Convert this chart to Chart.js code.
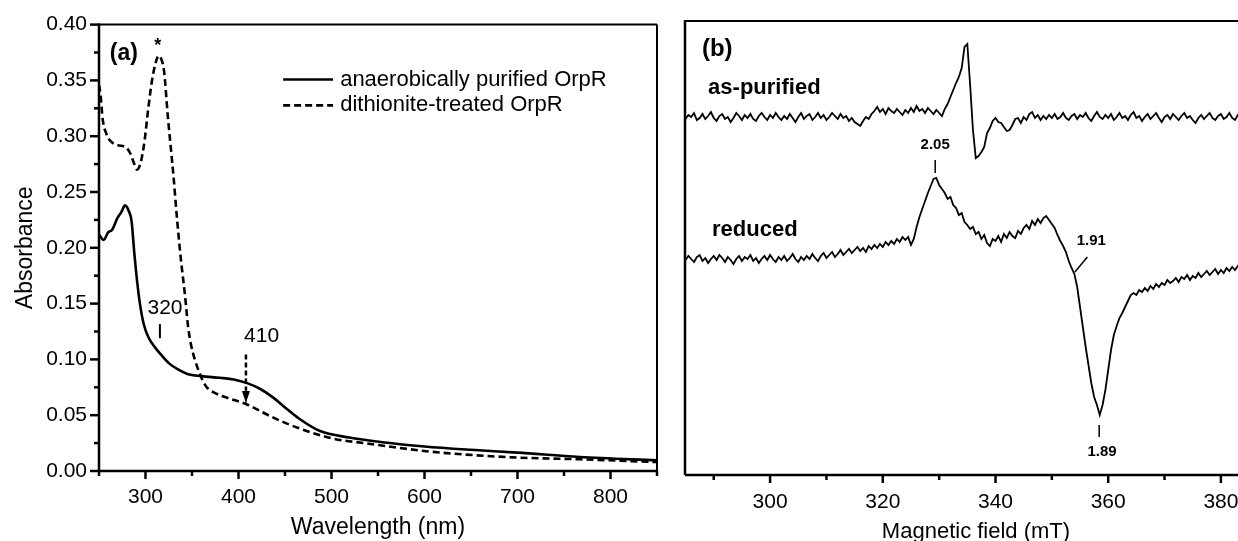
<!DOCTYPE html>
<html>
<head>
<meta charset="utf-8">
<script src="https://cdn.jsdelivr.net/npm/chart.js@4.4.0/dist/chart.umd.min.js"></script>
<style>
  html, body { margin: 0; padding: 0; background: #fff; }
  body { width: 1238px; height: 541px; position: relative; overflow: hidden; }
  #uvvis { position: absolute; left: 0; top: 0; }
  #epr { position: absolute; left: 660px; top: 0; }
</style>
</head>
<body>
<canvas id="uvvis" width="680" height="541"></canvas>
<canvas id="epr" width="607" height="546"></canvas>
<script>
const FONT = '"Liberation Sans", Arial, sans-serif'

// ---- panel (a): UV-vis ----
const wavelengthTicks = [300, 400, 500, 600, 700, 800]
const wavelengthMinor = [250, 350, 450, 550, 650, 750, 850]
const absorbanceTicks = [0, 0.05, 0.10, 0.15, 0.20, 0.25, 0.30, 0.35, 0.40]
const absorbanceMinor = [0.025, 0.075, 0.125, 0.175, 0.225, 0.275, 0.325, 0.375]

const purifiedWl = [250, 255, 260, 264, 270, 274, 278, 282, 285, 288, 291, 294, 298, 303, 310, 318, 326, 335, 345, 360, 380, 395, 410, 423, 437, 450, 465, 487, 519, 555, 600, 650, 700, 767, 850]
const purifiedAbs = [0.212, 0.207, 0.214, 0.216, 0.227, 0.232, 0.238, 0.233, 0.224, 0.195, 0.170, 0.150, 0.132, 0.120, 0.111, 0.103, 0.096, 0.091, 0.087, 0.085, 0.0835, 0.082, 0.0785, 0.0737, 0.066, 0.057, 0.047, 0.036, 0.030, 0.0258, 0.022, 0.019, 0.0165, 0.0125, 0.0095]

const dithioniteWl = [250, 251.5, 254, 258, 262, 270, 279, 284, 288, 291, 295, 299, 303, 307, 311, 314, 317, 320, 324, 330, 334, 338, 342.4, 345.7, 349, 353, 359.5, 365, 377, 390, 408, 437, 466, 502, 538, 595, 624, 695, 767, 850]
const dithioniteAbs = [0.346, 0.338, 0.315, 0.302, 0.296, 0.292, 0.290, 0.284, 0.275, 0.270, 0.277, 0.296, 0.325, 0.350, 0.366, 0.372, 0.369, 0.358, 0.318, 0.265, 0.225, 0.190, 0.158, 0.130, 0.113, 0.100, 0.085, 0.076, 0.069, 0.065, 0.060, 0.048, 0.038, 0.029, 0.0247, 0.0184, 0.016, 0.0122, 0.0105, 0.008]

// ---- panel (b): EPR, both traces sampled on the same field grid (mT) ----
const fieldTicks = [300, 320, 340, 360, 380]
const fieldMinor = [290, 310, 330, 350, 370]

const field = [
  285, 285.5, 286, 286.5, 287, 287.5, 288, 288.5, 289, 289.5,
  290, 290.5, 291, 291.5, 292, 292.5, 293, 293.5, 294, 294.5,
  295, 295.5, 296, 296.5, 297, 297.5, 298, 298.5, 299, 299.5,
  300, 300.5, 301, 301.5, 302, 302.5, 303, 303.5, 304, 304.5,
  305, 305.5, 306, 306.5, 307, 307.5, 308, 308.5, 309, 309.5,
  310, 310.5, 311, 311.5, 312, 312.5, 313, 313.5, 314, 314.5,
  315, 315.5, 316, 316.5, 317, 317.5, 318, 318.5, 319, 319.5,
  320, 320.5, 321, 321.5, 322, 322.5, 323, 323.5, 324, 324.5,
  325, 325.5, 326, 326.5, 327, 327.5, 328, 328.5, 329, 329.5,
  330, 330.5, 331, 331.5, 332, 332.5, 333, 333.5, 334, 334.5,
  335, 335.5, 336, 336.5, 337, 337.5, 338, 338.5, 339, 339.5,
  340, 340.5, 341, 341.5, 342, 342.5, 343, 343.5, 344, 344.5,
  345, 345.5, 346, 346.5, 347, 347.5, 348, 348.5, 349, 349.5,
  350, 350.5, 351, 351.5, 352, 352.5, 353, 353.5, 354, 354.5,
  355, 355.5, 356, 356.5, 357, 357.5, 358, 358.5, 359, 359.5,
  360, 360.5, 361, 361.5, 362, 362.5, 363, 363.5, 364, 364.5,
  365, 365.5, 366, 366.5, 367, 367.5, 368, 368.5, 369, 369.5,
  370, 370.5, 371, 371.5, 372, 372.5, 373, 373.5, 374, 374.5,
  375, 375.5, 376, 376.5, 377, 377.5, 378, 378.5, 379, 379.5,
  380, 380.5, 381, 381.5, 382, 382.5, 383, 383.5, 384, 384.5,
  385, 385.5, 386, 386.5, 387, 387.5, 388, 388.5
]
const asPurifiedSignal = [
  356, 360, 358, 362, 355, 357, 361, 356, 359, 363,
  357, 354, 359, 361, 356, 358, 353, 357, 362, 359,
  355, 360, 357, 361, 356, 354, 359, 362, 358, 355,
  360, 357, 362, 358, 355, 359, 356, 361, 357, 353,
  358, 362, 356, 359, 361, 355, 358, 362, 357, 360,
  355, 358, 362, 359, 356, 361, 357, 359, 354, 357,
  353, 351, 349, 354, 358, 356, 361, 364, 368, 363,
  366, 361, 367, 364, 362, 366, 363, 360, 365, 362,
  367, 363, 369, 364, 366, 362, 367, 364, 361, 365,
  362, 359, 366, 371, 378, 385, 392, 398, 407, 428,
  431, 390, 345, 317, 319, 323, 328, 342, 347, 354,
  357, 353, 352, 348, 344, 345, 350, 356, 357, 352,
  358, 355, 361, 363, 357, 360, 355, 359, 356, 360,
  357, 361, 356, 358, 362, 357, 355, 359, 361, 356,
  360, 358, 362, 357, 354, 359, 363, 358, 356, 360,
  357, 361, 355, 358, 362, 357, 359, 355, 360, 363,
  357, 359, 354, 358, 361, 356, 359, 362, 357, 353,
  358, 360, 356, 361, 358, 355, 359, 362, 357, 359,
  355, 352, 357, 360, 356, 359, 362, 357, 355, 359,
  361, 356, 358, 362, 357, 355, 360, 357, 361, 356,
  359, 362, 357, 355, 360, 358, 361, 357
]
const reducedSignal = [
  215, 219, 216, 213, 218, 220, 214, 217, 212, 216,
  219, 215, 220, 217, 213, 218, 215, 211, 216, 219,
  214, 218, 216, 220, 214, 217, 212, 216, 219, 215,
  220, 216, 213, 218, 215, 219, 214, 217, 221, 216,
  213, 218, 215, 219, 216, 221, 217, 214, 219, 222,
  217, 220, 223, 218, 221, 225, 220, 223, 226, 222,
  225, 228, 224, 227, 223, 229, 226, 230, 227, 231,
  228, 233, 230, 234, 231, 236, 233, 238, 235, 238,
  230, 236, 248, 258, 266, 274, 282, 289, 296, 297,
  290, 286, 282, 276, 278, 270, 267, 260, 262, 253,
  250, 246, 248, 241, 243, 236, 240, 232, 229, 236,
  234, 239, 233, 241, 237, 243, 239, 237, 244, 241,
  247, 250, 246, 254, 250, 256, 252, 257, 259, 255,
  251, 247, 240, 234, 229, 223, 214, 207, 201, 188,
  168, 148, 128, 110, 92, 78, 70, 60, 70, 85,
  105, 125, 140, 149, 157, 162, 168, 174, 180, 182,
  180, 185, 183, 187, 184, 189, 186, 191, 188, 192,
  190, 195, 192, 194, 197, 193, 198, 196, 200, 195,
  199, 197, 202, 198, 201, 204, 200, 203, 206, 201,
  205, 202, 207, 204, 208, 205, 209, 206, 209, 207,
  210, 208, 211, 207, 210, 208, 211, 209
]

const toPoints = (xs, ys) => xs.map((v, i) => ({x: v, y: ys[i]}))

// frame, outward ticks and text annotations, all placed through the chart scales
const framePlugin = {
  id: 'frame',
  afterDraw(chart, args, opts) {
    const ctx = chart.ctx
    const a = chart.chartArea
    const x = chart.scales.x
    const y = chart.scales.y
    const line = (x1, y1, x2, y2, w) => {
      ctx.lineWidth = w
      ctx.beginPath(); ctx.moveTo(x1, y1); ctx.lineTo(x2, y2); ctx.stroke()
    }
    ctx.save()
    ctx.strokeStyle = '#000'
    ctx.fillStyle = '#000'
    line(a.left, a.top, a.right, a.top, 2)
    if (opts.rightBorder) line(a.right, a.top, a.right, a.bottom, 2)
    line(a.left, a.top - 1, a.left, a.bottom, 2.5)
    line(a.left, a.bottom, a.right, a.bottom, 2.5)
    opts.xMajor.forEach(v => { const p = x.getPixelForValue(v); line(p, a.bottom, p, a.bottom + 8, 2.5) })
    opts.xMinor.forEach(v => { const p = x.getPixelForValue(v); line(p, a.bottom, p, a.bottom + 5, 2.5) })
    ;(opts.yMajor || []).forEach(v => { const p = y.getPixelForValue(v); line(a.left, p, a.left - 9, p, 2.5) })
    ;(opts.yMinor || []).forEach(v => { const p = y.getPixelForValue(v); line(a.left, p, a.left - 5, p, 2.5) })

    ;(opts.segments || []).forEach(s => {
      ctx.setLineDash(s.dash || [])
      line(x.getPixelForValue(s.x1), y.getPixelForValue(s.y1), x.getPixelForValue(s.x2), y.getPixelForValue(s.y2), s.width || 2)
      ctx.setLineDash([])
      if (s.arrow) {
        const px = x.getPixelForValue(s.x2), py = y.getPixelForValue(s.y2)
        ctx.beginPath(); ctx.moveTo(px, py); ctx.lineTo(px - 4, py - 12); ctx.lineTo(px + 4, py - 12); ctx.closePath(); ctx.fill()
      }
    })
    ;(opts.texts || []).forEach(t => {
      ctx.font = t.font
      ctx.textAlign = t.align || 'left'
      ctx.textBaseline = t.baseline || 'middle'
      ctx.fillText(t.text, x.getPixelForValue(t.x), y.getPixelForValue(t.y))
    })
    ctx.restore()
  }
}

new Chart(document.getElementById('uvvis'), {
  type: 'line',
  data: {
    datasets: [
      {label: 'anaerobically purified OrpR', data: toPoints(purifiedWl, purifiedAbs), borderColor: '#000', borderWidth: 2.6, pointRadius: 0, cubicInterpolationMode: 'monotone'},
      {label: 'dithionite-treated OrpR', data: toPoints(dithioniteWl, dithioniteAbs), borderColor: '#000', borderWidth: 2.6, borderDash: [7, 4], pointRadius: 0, cubicInterpolationMode: 'monotone'}
    ]
  },
  options: {
    responsive: false,
    animation: false,
    events: [],
    layout: {padding: {left: 0, right: 23, top: 22, bottom: 0}},
    scales: {
      x: {
        type: 'linear', min: 250, max: 850,
        afterBuildTicks: s => { s.ticks = wavelengthTicks.map(v => ({value: v})) },
        afterFit: s => { s.height = 70 },
        grid: {display: false, drawTicks: false}, border: {display: false},
        ticks: {color: '#000', padding: 14, font: {family: FONT, size: 21}},
        title: {display: true, text: 'Wavelength (nm)', color: '#000', font: {family: FONT, size: 23}, padding: {top: 0, bottom: 0}}
      },
      y: {
        min: 0, max: 0.40,
        afterBuildTicks: s => { s.ticks = absorbanceTicks.map(v => ({value: v})) },
        afterFit: s => { s.width = 99 },
        grid: {display: false, drawTicks: false}, border: {display: false},
        ticks: {color: '#000', padding: 12, font: {family: FONT, size: 21}, callback: v => v.toFixed(2)},
        title: {display: true, text: 'Absorbance', color: '#000', font: {family: FONT, size: 23}, padding: {top: 12, bottom: 0}}
      }
    },
    plugins: {
      legend: {display: false},
      tooltip: {enabled: false},
      frame: {
        rightBorder: true,
        xMajor: wavelengthTicks, xMinor: wavelengthMinor,
        yMajor: absorbanceTicks, yMinor: absorbanceMinor,
        segments: [
          {x1: 448, y1: 0.3508, x2: 501.7, y2: 0.3508, width: 2.6},
          {x1: 448, y1: 0.3276, x2: 501.7, y2: 0.3276, width: 2.6, dash: [7, 4]},
          {x1: 315.5, y1: 0.1316, x2: 315.5, y2: 0.119, width: 2},
          {x1: 408, y1: 0.1045, x2: 408, y2: 0.072, width: 2.5, dash: [5, 3]},
          {x1: 408, y1: 0.072, x2: 408, y2: 0.061, width: 1, arrow: true}
        ],
        texts: [
          {text: 'anaerobically purified OrpR', x: 509.3, y: 0.3508, font: '22px ' + FONT},
          {text: 'dithionite-treated OrpR', x: 509.3, y: 0.3276, font: '22px ' + FONT},
          {text: '(a)', x: 261.6, y: 0.374, font: 'bold 23px ' + FONT},
          {text: '*', x: 313.3, y: 0.3766, font: 'bold 18px ' + FONT, align: 'center', baseline: 'alphabetic'},
          {text: '320', x: 321, y: 0.146, font: '21px ' + FONT, align: 'center'},
          {text: '410', x: 424.8, y: 0.121, font: '21px ' + FONT, align: 'center'}
        ]
      }
    }
  },
  plugins: [framePlugin]
})

new Chart(document.getElementById('epr'), {
  type: 'line',
  data: {
    datasets: [
      {label: 'as-purified', data: toPoints(field, asPurifiedSignal), borderColor: '#000', borderWidth: 1.8, pointRadius: 0, tension: 0},
      {label: 'reduced', data: toPoints(field, reducedSignal), borderColor: '#000', borderWidth: 1.8, pointRadius: 0, tension: 0}
    ]
  },
  options: {
    responsive: false,
    animation: false,
    events: [],
    layout: {padding: {left: 25, right: 0, top: 21, bottom: 0}},
    scales: {
      x: {
        type: 'linear', min: 284.9, max: 388.18,
        afterBuildTicks: s => { s.ticks = fieldTicks.map(v => ({value: v})) },
        afterFit: s => { s.height = 71 },
        grid: {display: false, drawTicks: false}, border: {display: false},
        ticks: {color: '#000', padding: 15, font: {family: FONT, size: 21}},
        title: {display: true, text: 'Magnetic field (mT)', color: '#000', font: {family: FONT, size: 22}, padding: {top: 0, bottom: 1}}
      },
      y: {min: 0, max: 454, display: false}
    },
    plugins: {
      legend: {display: false},
      tooltip: {enabled: false},
      frame: {
        rightBorder: false,
        xMajor: fieldTicks, xMinor: fieldMinor,
        segments: [
          {x1: 329.3, y1: 315, x2: 329.3, y2: 302, width: 1.5},
          {x1: 354.1, y1: 203, x2: 356.3, y2: 218, width: 1.5},
          {x1: 358.4, y1: 50, x2: 358.4, y2: 38, width: 1.5}
        ],
        texts: [
          {text: '(b)', x: 287.9, y: 426, font: 'bold 24px ' + FONT},
          {text: 'as-purified', x: 289.0, y: 387, font: 'bold 22px ' + FONT},
          {text: 'reduced', x: 289.7, y: 245, font: 'bold 22px ' + FONT},
          {text: '2.05', x: 329.3, y: 330, font: 'bold 15px ' + FONT, align: 'center'},
          {text: '1.91', x: 357.0, y: 234, font: 'bold 15px ' + FONT, align: 'center'},
          {text: '1.89', x: 358.9, y: 23, font: 'bold 15px ' + FONT, align: 'center'}
        ]
      }
    }
  },
  plugins: [framePlugin]
})
</script>
</body>
</html>
